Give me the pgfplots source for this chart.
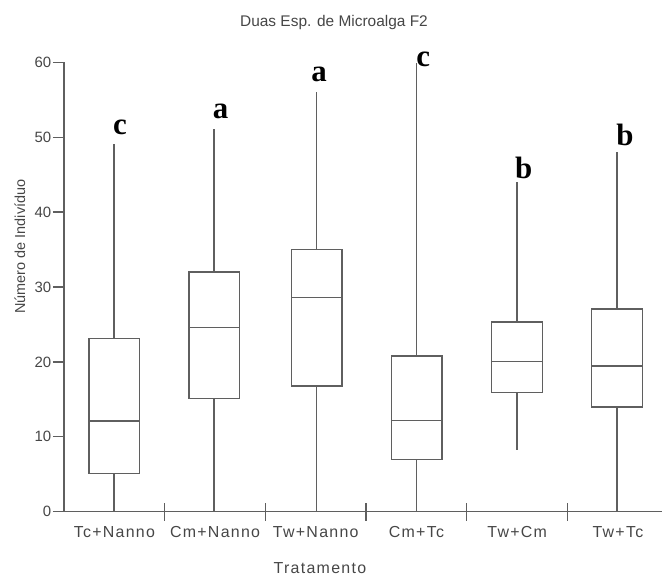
\documentclass[border=0pt]{standalone}
\usepackage{fontspec}
\setmainfont{Liberation Sans}
\newfontfamily\lab{Liberation Sans}[LetterSpace=8]
\newfontfamily\lett{Liberation Serif}
\usepackage{pgfplots}
\pgfplotsset{compat=1.18}
\usepgfplotslibrary{statistics}
\definecolor{ln}{RGB}{95,95,95}
\definecolor{tx}{RGB}{70,70,70}
\newcommand{\letfont}{\lett\bfseries\fontsize{31}{31}\selectfont}
\begin{document}
\begin{tikzpicture}
\useasboundingbox (0,0) rectangle (662bp,577bp);
\begin{axis}[
  at={(64bp,65.3bp)}, anchor=south west,
  scale only axis, width=598bp, height=449.4bp,
  xmin=0, xmax=5.938, ymin=0, ymax=60,
  boxplot/draw direction=y,
  axis x line=bottom, axis y line=left,
  axis line style={-, draw=ln, line width=1.3bp},
  tick style={draw=ln, line width=1.3bp},
  major tick length=11bp,
  ytick align=outside, xtick align=inside,
  ytick={0,10,...,60},
  /pgf/number format/assume math mode=true,
  yticklabel style={font=\fontsize{15}{15}\selectfont, text=tx, inner xsep=1.5bp},
  xtick={0.5,1.5,2.5,3.5,4.5,5.5},
  xticklabels={Tc+Nanno,Cm+Nanno,Tw+Nanno,Cm+Tc,Tw+Cm,Tw+Tc},
  x tick style={draw=none},
  xticklabel style={font=\lab\fontsize{16}{16}\selectfont, text=tx, anchor=base, yshift=-26bp},
  extra x ticks={1,2,3,4,5},
  extra x tick labels={},
  extra x tick style={tick align=center, major tick length=18.3bp, x tick style={draw=ln, line width=1.3bp}},
  title={Duas Esp. de Microalga F2},
  title style={font=\fontsize{15.5}{15.5}\selectfont, text=tx, at={(axis description cs:0.4515,1.0668)}, anchor=base},
  xlabel={Tratamento},
  xlabel style={font=\lab\fontsize{16}{16}\selectfont, text=tx, at={(axis description cs:0.428,-0.138)}, anchor=base},
  ylabel={Número de Indivíduo},
  ylabel style={font=\fontsize{14.5}{14.5}\selectfont, text=tx, at={(axis description cs:-0.0652,0.59)}, anchor=base},
  clip=false,
]
\addplot[ln, line width=1.3bp, boxplot prepared={draw position=0.497, lower whisker=0, lower quartile=5.1, median=12.1, upper quartile=23.1, upper whisker=49.05, box extend=0.5, whisker extend=0}] coordinates {};
\addplot[ln, line width=1.3bp, boxplot prepared={draw position=1.490, lower whisker=0, lower quartile=15.1, median=24.6, upper quartile=32.0, upper whisker=51.1, box extend=0.5, whisker extend=0}] coordinates {};
\addplot[ln, line width=1.3bp, boxplot prepared={draw position=2.509, lower whisker=0, lower quartile=16.8, median=28.6, upper quartile=35.0, upper whisker=56.08, box extend=0.5, whisker extend=0}] coordinates {};
\addplot[ln, line width=1.3bp, boxplot prepared={draw position=3.502, lower whisker=0, lower quartile=7.0, median=12.15, upper quartile=20.8, upper whisker=59.95, box extend=0.5, whisker extend=0}] coordinates {};
\addplot[ln, line width=1.3bp, boxplot prepared={draw position=4.498, lower whisker=8.24, lower quartile=15.9, median=20.03, upper quartile=25.33, upper whisker=44.06, box extend=0.5, whisker extend=0}] coordinates {};
\addplot[ln, line width=1.3bp, boxplot prepared={draw position=5.491, lower whisker=0, lower quartile=13.98, median=19.45, upper quartile=27.06, upper whisker=48.0, box extend=0.5, whisker extend=0}] coordinates {};
\node[font=\letfont, anchor=base, inner sep=0pt] at (axis cs:0.556,50.39) {c};
\node[font=\letfont, anchor=base, inner sep=0pt] at (axis cs:1.556,52.52) {a};
\node[font=\letfont, anchor=base, inner sep=0pt] at (axis cs:2.534,57.41) {a};
\node[font=\letfont, anchor=base, inner sep=0pt] at (axis cs:3.568,59.41) {c};
\node[font=\letfont, anchor=base, inner sep=0pt] at (axis cs:4.565,44.55) {b};
\node[font=\letfont, anchor=base, inner sep=0pt] at (axis cs:5.571,48.95) {b};
\end{axis}
\end{tikzpicture}
\end{document}
